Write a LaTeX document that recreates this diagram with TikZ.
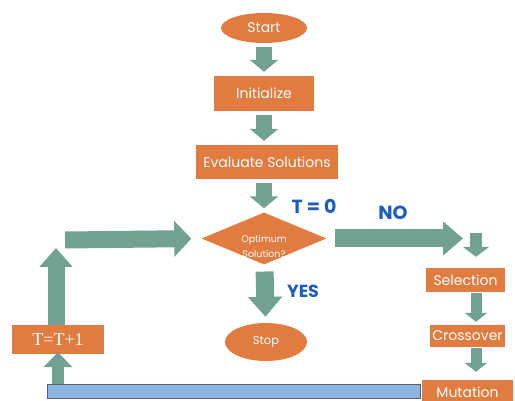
\documentclass[tikz,border=0pt]{standalone}
\usepackage{fontspec}
\setmainfont{Poppins}
\newfontfamily\serifnum{Liberation Serif}
\usepackage{tikz}
\usetikzlibrary{positioning,arrows.meta,shapes.geometric,calc}
\definecolor{boxorange}{RGB}{225,124,64}
\definecolor{arrowteal}{RGB}{112,161,146}
\definecolor{labelblue}{RGB}{30,92,190}
\definecolor{barblue}{RGB}{142,180,226}
\definecolor{baredge}{RGB}{85,95,110}

\begin{document}
\begin{tikzpicture}[
  x=1pt,y=-1pt,
  every node/.style={text=white,inner sep=0pt},
  proc/.style={rectangle,fill=boxorange,font=\fontsize{14}{16}\selectfont},
  term/.style={ellipse,fill=boxorange,font=\fontsize{14}{16}\selectfont},
  decide/.style={diamond,fill=boxorange,aspect=2.4,minimum width=125pt,
    minimum height=52pt},
  decidetext/.style={text=white,align=center,yshift=-8pt,
    font=\fontsize{9.5}{15.5}\selectfont},
  lbl/.style={text=labelblue,font=\fontsize{19}{21}\selectfont\bfseries},
  flow/.style={draw=arrowteal,line width=16pt,
    -{Triangle[width=28pt,length=12pt]},shorten <=4pt,shorten >=4pt},
  flowbig/.style={draw=arrowteal,line width=18pt,
    -{Triangle[width=33pt,length=20pt]}},
  flowsmall/.style={draw=arrowteal,line width=12pt,
    -{Triangle[width=26pt,length=10pt]}}
]
\useasboundingbox (0,0) rectangle (515,401);

% main column
\node[term,minimum width=86pt,minimum height=30pt] (start) at (264,28) {Start};
\node[proc,minimum width=100pt,minimum height=35pt] (init) at (264,93.5) {Initialize};
\node[proc,minimum width=142pt,minimum height=34pt] (eval) at (267,162) {Evaluate Solutions};
\node[decide,label={[decidetext]center:Optimum\\Solution?}] (opt) at (264,238.5) {};
\node[term,minimum width=82pt,minimum height=38pt,font=\fontsize{11.5}{13}\selectfont]
  (stop) at (266,342) {Stop};

\draw[flow] (start) -- (init);
\draw[flow] (init) -- (init |- eval.north);
\draw[flow] (eval.south -| opt) -- (opt);
\draw[flowbig,shorten <=7pt,shorten >=6pt] (opt) -- (stop);

\node[lbl] (tzero) at (314,206) {T = 0};
\node[lbl,font=\fontsize{17.5}{20}\selectfont\bfseries] (yes) at (303,291) {YES};
\node[lbl] (no) at (393,213) {NO};

% right column
\coordinate (noend) at (463,238);
\coordinate (selin) at (476,233);
\node[proc,minimum width=79pt,minimum height=24pt] (sel) at (465.5,280) {Selection};
\node[proc,minimum width=75pt,minimum height=22pt] (cross) at (467.5,336) {Crossover};
\node[proc,minimum width=91pt,minimum height=24pt] (mut) at (467.5,392) {Mutation};

\draw[flowbig,shorten <=8pt] (opt.east) -- (opt.east -| noend);
\draw[flowsmall,shorten >=11pt] (selin) -- (selin |- sel.north);
\draw[flowsmall,line width=11pt,-{Triangle[width=22pt,length=9pt]},
  shorten <=1pt,shorten >=3pt] (sel.south -| selin) -- (cross.north -| selin);
\draw[flowsmall,line width=11pt,-{Triangle[width=22pt,length=9pt]},
  shorten <=1pt,shorten >=8pt] (cross.south -| selin) -- (mut.north -| selin);

% loop back
\node[rectangle,fill=barblue,draw=baredge,line width=0.8pt,
  minimum width=373pt,minimum height=14pt] (bar) at (233.5,391) {};
\node[proc,minimum width=92pt,minimum height=29pt,
  font=\fontsize{18}{20}\serifnum] (tinc) at (58,339.5) {T=T+1};
\coordinate (upend) at (56,248);
\coordinate (loopstart) at (65,240);

\draw[flowsmall,-{Triangle[width=28pt,length=15pt]},shorten >=-2pt]
  (bar.north -| tinc) -- (tinc.south);
\draw[flowbig,line width=17pt,-{Triangle[width=32pt,length=19pt]}]
  (tinc.north -| upend) -- (upend);
\draw[flowbig,line width=17pt,-{Triangle[width=35pt,length=17pt]},
  shorten >=10pt] (loopstart) -- (opt.west);
\end{tikzpicture}
\end{document}
